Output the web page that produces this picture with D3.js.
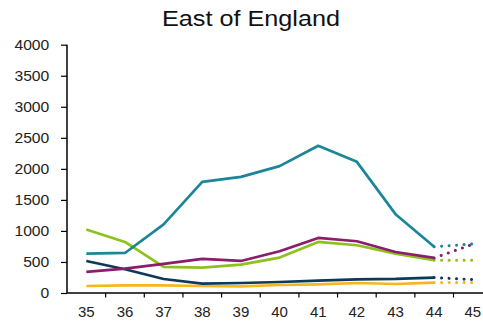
<!DOCTYPE html>
<html>
<head>
<meta charset="utf-8">
<script src="https://cdn.jsdelivr.net/npm/d3@7"></script>
<style>
  html, body { margin: 0; padding: 0; background: #fff; }
  svg { display: block; font-family: "Liberation Sans", Arial, sans-serif; }
</style>
</head>
<body>
<svg id="chart" width="483" height="327"></svg>
<script>
// ---- data ----
const title = "East of England";
const weeks = ["35","36","37","38","39","40","41","42","43","44","45"];
const actualWeeks = ["35","36","37","38","39","40","41","42","43","44"];
const projWeeks = ["44","45"];
const yTicks = [0,500,1000,1500,2000,2500,3000,3500,4000];

const seriesNames = ["Teal","Purple","Green","Navy","Yellow"];
const tealValues   = [635, 645, 1105, 1790, 1871, 2044, 2371, 2113, 1270, 745];
const purpleValues = [339, 394, 470, 549, 516, 672, 887, 834, 661, 565];
const greenValues  = [1022, 823, 420, 410, 458, 571, 823, 769, 635, 527];
const navyValues   = [516, 382, 226, 152, 161, 177, 200, 221, 226, 248];
const yellowValues = [113, 124, 124, 113, 108, 129, 140, 161, 145, 168];
const tealProj   = [745, 790];
const purpleProj = [565, 785];
const greenProj  = [527, 527];
const navyProj   = [248, 216];
const yellowProj = [168, 168];
const colors = ["#1c8698", "#8c1c6c", "#8cc21c", "#0e3a5a", "#f8b51e"];

(function () {
const series = [
  { name: seriesNames[4], values: yellowValues, proj: yellowProj, color: colors[4] },
  { name: seriesNames[3], values: navyValues,   proj: navyProj,   color: colors[3] },
  { name: seriesNames[2], values: greenValues,  proj: greenProj,  color: colors[2] },
  { name: seriesNames[1], values: purpleValues, proj: purpleProj, color: colors[1] },
  { name: seriesNames[0], values: tealValues,   proj: tealProj,   color: colors[0] }
];

// ---- layout ----
const svg = d3.select("#chart");
const mLeft = 67, mBottom = 293, mTop = 44.7;
const bandW = 38.65;

const x = d3.scaleBand().domain(weeks).range([mLeft, mLeft + bandW * weeks.length]).padding(0);
const y = d3.scaleLinear().domain([0, 4000]).range([mBottom, mTop]);
const cx = d => x(d) + x.bandwidth() / 2;

// title
svg.append("text")
  .attr("x", 162).attr("y", 26)
  .attr("text-anchor", "start")
  .attr("font-size", 22)
  .attr("textLength", 178)
  .attr("lengthAdjust", "spacingAndGlyphs")
  .attr("fill", "#111")
  .text(title);

// y axis
const yAxis = svg.append("g")
  .attr("transform", `translate(${mLeft},0)`)
  .call(d3.axisLeft(y).tickValues(yTicks).tickSize(6).tickPadding(9.8).tickFormat(d3.format("d")));
yAxis.select(".domain").attr("stroke", "#000").attr("stroke-width", 1.5).attr("d", `M0,${mTop}V${mBottom}`);
yAxis.selectAll(".tick line").attr("stroke", "#000").attr("stroke-width", 1.2);
yAxis.selectAll(".tick text").attr("font-size", 14).attr("fill", "#222")
  .attr("transform", "scale(1.12,1)")
  .attr("font-family", "Liberation Sans, Arial, sans-serif");

// x axis (labels at band centres, tick marks at band boundaries)
const xAxis = svg.append("g")
  .attr("transform", `translate(0,${mBottom})`)
  .call(d3.axisBottom(x).tickSize(0).tickPadding(13.5));
xAxis.select(".domain").attr("stroke", "#000").attr("stroke-width", 1.5)
  .attr("d", `M${mLeft},0H483`);
xAxis.selectAll(".tick text").attr("font-size", 15).attr("fill", "#222")
  .attr("font-family", "Liberation Sans, Arial, sans-serif");
xAxis.selectAll(".bound").data(weeks.slice(1)).enter().append("line")
  .attr("class", "bound")
  .attr("x1", d => x(d)).attr("x2", d => x(d))
  .attr("y1", 0).attr("y2", 4.5)
  .attr("stroke", "#000").attr("stroke-width", 1.2);

// lines
const line = d3.line().x(d => cx(d.w)).y(d => y(d.v));

const g = svg.append("g");
series.forEach(s => {
  g.append("path")
    .datum(actualWeeks.map((w, i) => ({ w, v: s.values[i] })))
    .attr("d", line)
    .attr("fill", "none")
    .attr("stroke", s.color)
    .attr("stroke-width", 2.7)
    .attr("stroke-linejoin", "round");
});
series.forEach(s => {
  g.append("path")
    .datum(projWeeks.map((w, i) => ({ w, v: s.proj[i] })))
    .attr("d", line)
    .attr("fill", "none")
    .attr("stroke", s.color)
    .attr("stroke-width", 3)
    .attr("stroke-dasharray", "0.1,7.4")
    .attr("stroke-dashoffset", -7.4)
    .attr("stroke-linecap", "round");
});
})();
</script>
</body>
</html>
